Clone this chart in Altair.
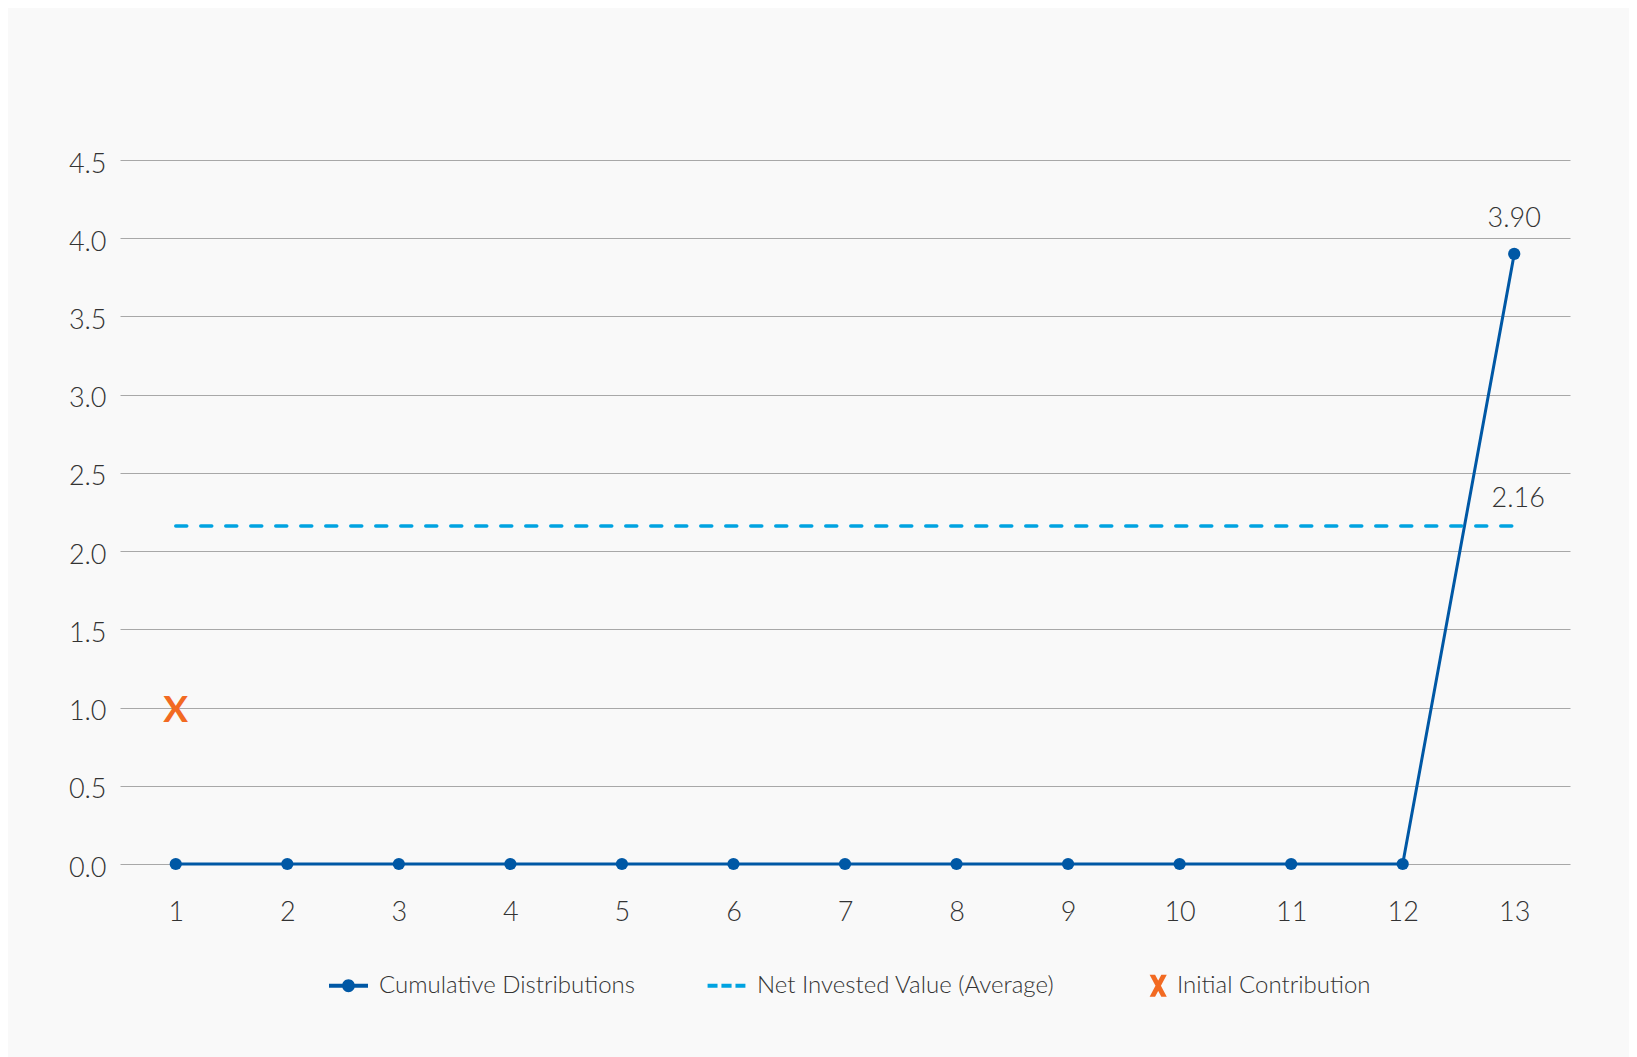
import altair as alt
import pandas as pd

# ---- data ----
periods = [1, 2, 3, 4, 5, 6, 7, 8, 9, 10, 11, 12, 13]
cumulative = [0, 0, 0, 0, 0, 0, 0, 0, 0, 0, 0, 0, 3.90]
net_invested_periods = [1, 13]
net_invested_values = [2.16, 2.16]
initial_periods = [1]
initial_values = [1.0]
series_names = ["Cumulative Distributions", "Net Invested Value (Average)", "Initial Contribution"]
series_colors = ["#0058a5", "#00a3e1", "#f26a22"]
y_ticks = [0, 0.5, 1.0, 1.5, 2.0, 2.5, 3.0, 3.5, 4.0, 4.5]

FONT = "Lato"

cum_df = pd.DataFrame({"period": periods, "value": cumulative})
net_df = pd.DataFrame({"period": net_invested_periods, "value": net_invested_values})
init_df = pd.DataFrame({"period": initial_periods, "value": initial_values, "mark": ["X"]})
cum_label_df = pd.DataFrame({"period": [periods[-1]], "value": [cumulative[-1]],
                             "label": [f"{cumulative[-1]:.2f}"]})
net_label_df = pd.DataFrame({"period": [net_invested_periods[-1]], "value": [net_invested_values[-1]],
                             "label": [f"{net_invested_values[-1]:.2f}"]})
legend_df = pd.DataFrame({"series": series_names})

x_scale = alt.Scale(domain=[0.5, 13.5], nice=False, zero=False)
y_scale = alt.Scale(domain=[0, 4.5], nice=False)

x_enc = alt.X("period:Q", scale=x_scale,
              axis=alt.Axis(values=periods, format="d", grid=False, domain=False, ticks=False,
                            tickSize=0, labelPadding=35, labelFontSize=27, labelFont=FONT,
                            labelFontWeight=300, labelColor="#333333", title=None))
y_enc = alt.Y("value:Q", scale=y_scale,
              axis=alt.Axis(values=y_ticks, format=".1f", grid=True, gridColor="#a8a8a8",
                            gridWidth=1, domain=False, ticks=False, tickSize=0, labelPadding=14,
                            labelOffset=4,
                            labelFontSize=27, labelFont=FONT, labelFontWeight=300,
                            labelColor="#333333", title=None))

base_cum = alt.Chart(cum_df)

cum_line = base_cum.mark_line(color=series_colors[0], strokeWidth=3).encode(x=x_enc, y=y_enc)
cum_pts = base_cum.mark_circle(color=series_colors[0], size=150, opacity=1).encode(
    x="period:Q", y="value:Q")

net_line = alt.Chart(net_df).mark_line(color=series_colors[1], strokeWidth=3.5,
                                       strokeDash=[11, 14], strokeCap="round").encode(
    x="period:Q", y="value:Q")

init_mark = alt.Chart(init_df).mark_text(color=series_colors[2], font=FONT, fontWeight="bold",
                                         fontSize=37, baseline="middle", align="center",
                                         dy=3).encode(
    x="period:Q", y="value:Q", text="mark:N")

cum_label = alt.Chart(cum_label_df).mark_text(font=FONT, fontWeight=300, fontSize=27,
                                              color="#333333", dy=-35, align="center").encode(
    x="period:Q", y="value:Q", text="label:N")
net_label = alt.Chart(net_label_df).mark_text(font=FONT, fontWeight=300, fontSize=27,
                                              color="#333333", dy=-27, dx=4, align="center").encode(
    x="period:Q", y="value:Q", text="label:N")

# legend symbols as custom paths
line_dot = ("M-1,-0.1H1V0.1H-1Z "
            "M-0.33,0A0.33,0.33 0 1,1 0.33,0A0.33,0.33 0 1,1 -0.33,0Z")
dashed = ("M-0.97,-0.1H-0.46V0.1H-0.97Z M-0.26,-0.1H0.26V0.1H-0.26Z "
          "M0.46,-0.1H0.97V0.1H0.46Z")
ox = 0.6
w, h, a = 0.44, 0.56, 0.28
x_path = (f"M{ox-w},{-h}H{ox-w+a}L{ox+w},{h}H{ox+w-a}Z "
          f"M{ox+w-a},{-h}H{ox+w}L{ox-w+a},{h}H{ox-w}Z")

legend_cfg = alt.Legend(title=None, orient="none", legendX=209, legendY=806, direction="horizontal",
                        symbolSize=1521, symbolStrokeWidth=0, labelFont=FONT, labelFontSize=24,
                        labelFontWeight=300, labelColor="#333333", labelOffset=11,
                        labelLimit=0, columnPadding=72, padding=0)

legend_layer = alt.Chart(legend_df).transform_filter("false").mark_point(filled=True, opacity=1).encode(
    color=alt.Color("series:N", scale=alt.Scale(domain=series_names, range=series_colors),
                    legend=legend_cfg),
    shape=alt.Shape("series:N", scale=alt.Scale(domain=series_names, range=[line_dot, dashed, x_path]),
                    legend=legend_cfg),
)

chart = alt.layer(cum_line, net_line, cum_pts, init_mark, cum_label, net_label, legend_layer).properties(
    width=1450, height=704,
    autosize=alt.AutoSizeParams(type="none"),
    padding={"left": 112, "top": 152, "right": 59, "bottom": 193},
    background="#f9f9f9",
).configure_view(stroke=None)

chart.save("out.html", embed_options={"renderer": "svg", "actions": False})
